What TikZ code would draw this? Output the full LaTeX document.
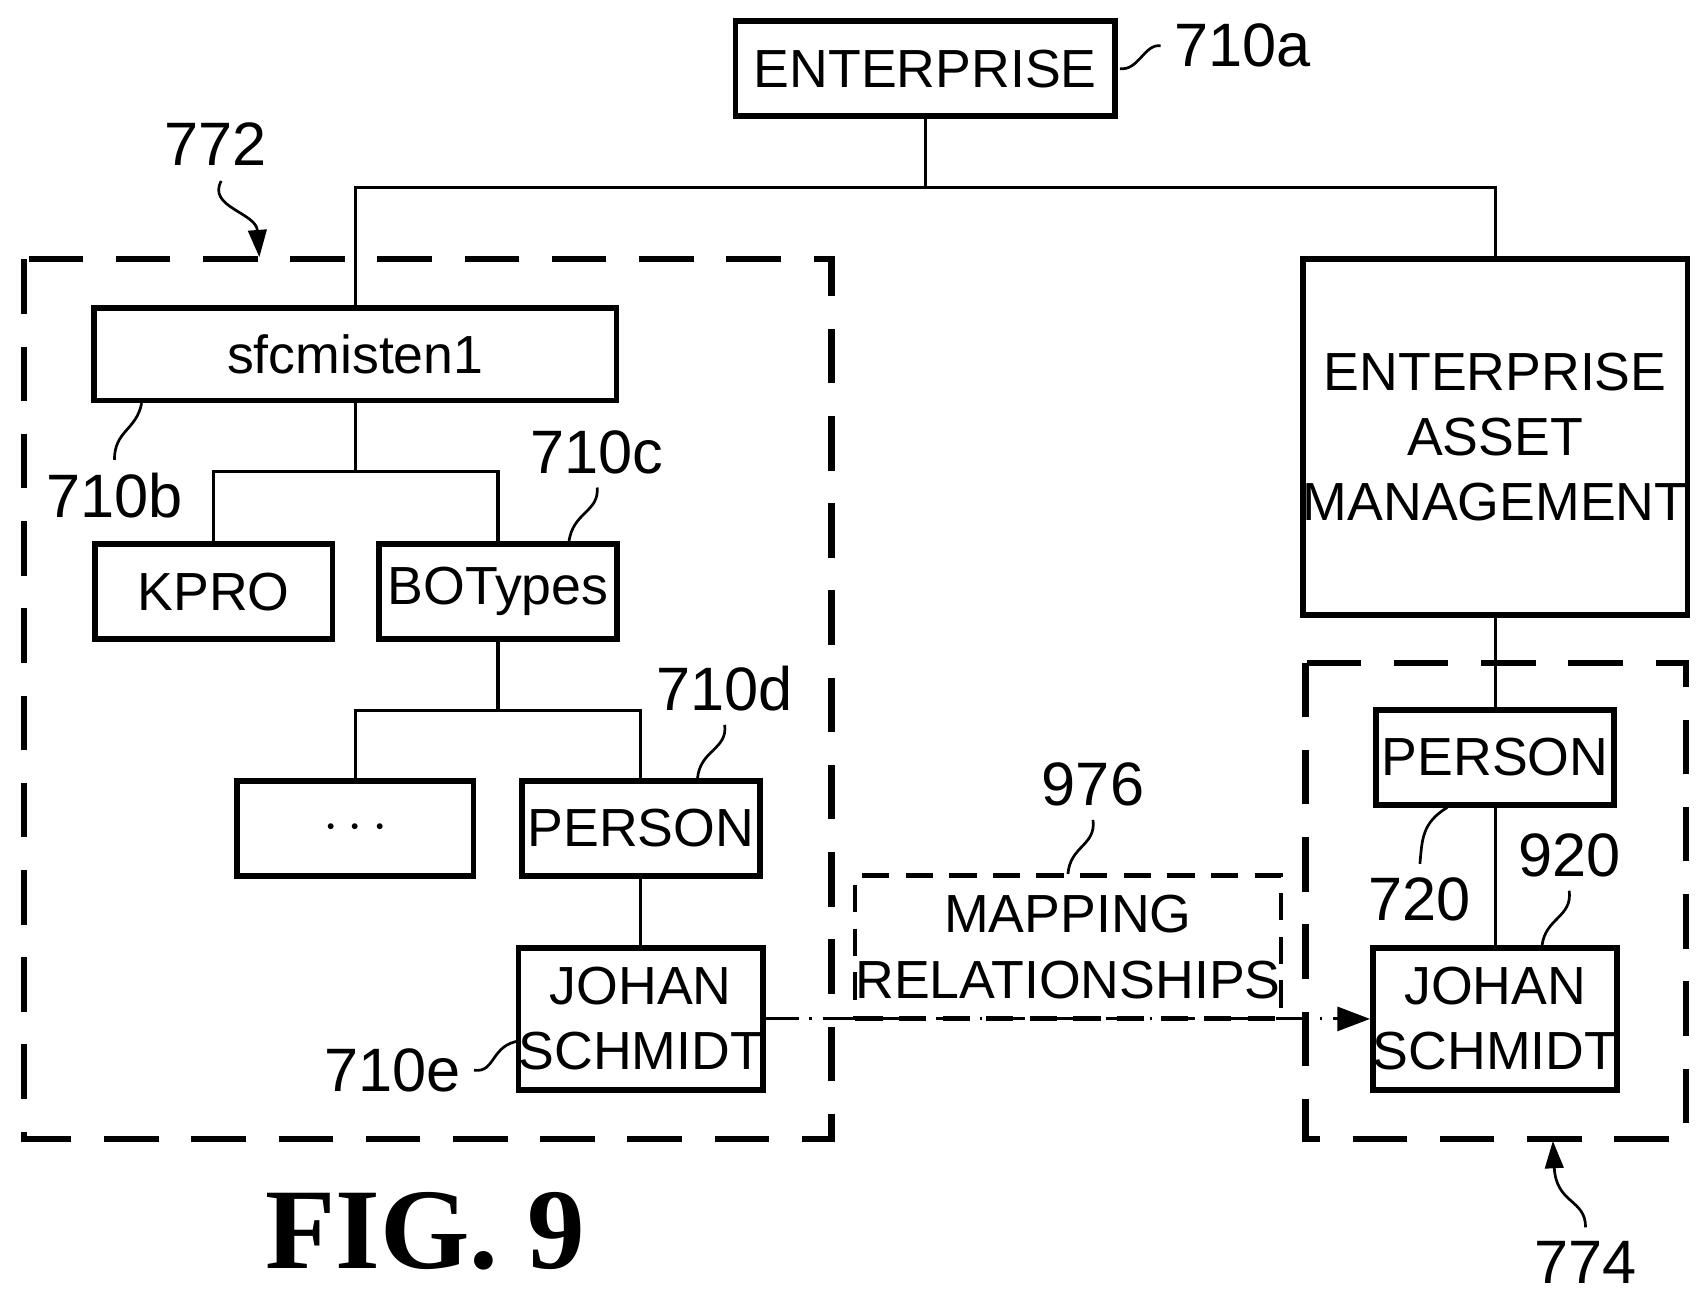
\documentclass[tikz,border=0pt]{standalone}
\usepackage{fontspec}
\setmainfont{Liberation Sans}
\newfontfamily\figfont{Liberation Serif}
\usetikzlibrary{positioning}
\usetikzlibrary{arrows.meta}

\tikzset{
    box/.style={draw, line width=1.5pt, inner sep=0pt, font=\fontsize{14}{17}\selectfont, align=center},
    wire/.style={line width=0.8pt},
    region/.style={line width=1.6pt, dash pattern=on 0.5cm off 0.3cm},
    refnum/.style={font=\fontsize{16}{18}\selectfont},
    leader/.style={line width=0.7pt}
}

\begin{document}
\begin{tikzpicture}[x=0.01cm, y=-0.01cm]
    \useasboundingbox (0,0) rectangle (1560,1190);

    % dashed regions
    \draw[region] (22,238) rectangle (763,1045);
    \draw[region] (1198,608) rectangle (1547,1045);

    % boxes
    \node[box, minimum width=3.48cm, minimum height=0.87cm] (ent) at (849,63) {ENTERPRISE};
    \node[box, minimum width=4.79cm, minimum height=0.85cm] (sfc) at (326,325) {sfcmisten1};
    \node[box, minimum width=2.18cm, minimum height=0.87cm] (kpro) at (196,543) {KPRO};
    \node[box, minimum width=2.18cm, minimum height=0.87cm] (bot) at (457,543) {BOTypes};
    \node[box, minimum width=2.17cm, minimum height=0.87cm] (dots) at (326,760) {\textbf{$\cdots$}};
    \node[box, minimum width=2.18cm, minimum height=0.87cm] (per) at (588,760) {PERSON};
    \node[box, minimum width=2.18cm, minimum height=1.30cm] (js) at (588,935) {JOHAN\\SCHMIDT};
    \node[box, minimum width=3.49cm, minimum height=3.27cm] (eam) at (1372,401) {ENTERPRISE\\ASSET\\MANAGEMENT};
    \node[box, minimum width=2.18cm, minimum height=0.87cm] (rper) at (1372,695) {PERSON};
    \node[box, minimum width=2.18cm, minimum height=1.30cm] (rjs) at (1372,935) {JOHAN\\SCHMIDT};
    \node[draw, line width=1.1pt, dash pattern=on 0.25cm off 0.15cm, inner sep=0pt, minimum width=3.49cm, minimum height=1.31cm,
          font=\fontsize{14}{17}\selectfont, align=center] (map) at (980,869) {MAPPING\\RELATIONSHIPS};

    % tree connectors
    \coordinate (top) at (849,172);
    \coordinate (mid1) at (326,433);
    \coordinate (mid2) at (457,652);
    \draw[wire] (ent) -- (top);
    \draw[wire] (sfc.north) |- (top) -| (eam.north);
    \draw[wire] (sfc) -- (mid1);
    \draw[wire] (kpro.north) |- (mid1) -| (bot.north);
    \draw[wire] (bot) -- (mid2);
    \draw[wire] (dots.north) |- (mid2) -| (per.north);
    \draw[wire] (per) -- (js);
    \draw[wire] (eam) -- (rper);
    \draw[wire] (rper) -- (rjs);

    % mapping arrow
    \draw[line width=0.8pt, dash pattern=on 0.3cm off 0.1cm on 0.02cm off 0.1cm, -{Triangle[length=0.3cm, width=0.22cm]}]
        (js.east) -- (rjs.west);

    % reference numerals
    \node[refnum] (n710a) at (1140,42) {710a};
    \draw[leader] (ent.east) ++(2,0) .. controls (1045,65) and (1050,40) .. (n710a.west);
    \node[refnum] (n772) at (198,132) {772};
    \draw[leader, -{Triangle[length=0.25cm, width=0.17cm]}] (n772.south) ++(5,2) .. controls (190,190) and (235,195) .. (238,236);
    \node[refnum] (n710b) at (105,455) {710b};
    \draw[leader] (130,370) .. controls (125,395) and (105,395) .. (n710b.north);
    \node[refnum] (n710c) at (548,415) {710c};
    \draw[leader] (n710c.south) .. controls (550,470) and (525,470) .. (522,498);
    \node[refnum] (n710d) at (665,632) {710d};
    \draw[leader] (n710d.south) .. controls (668,688) and (642,688) .. (640,715);
    \node[refnum] (n976) at (1003,720) {976};
    \draw[leader] (n976.south) .. controls (1006,776) and (982,776) .. (980,802);
    \node[refnum] (n720) at (1303,825) {720};
    \draw[leader] (1328,741) .. controls (1305,755) and (1305,770) .. (n720.north);
    \node[refnum] (n920) at (1440,785) {920};
    \draw[leader] (n920.south) .. controls (1443,842) and (1418,842) .. (1415,868);
    \node[refnum] (n710e) at (360,982) {710e};
    \draw[leader] (n710e.east) .. controls (455,985) and (450,958) .. (478,955);
    \node[refnum] (n774) at (1455,1158) {774};
    \draw[leader, -{Triangle[length=0.25cm, width=0.17cm]}] (n774.north) .. controls (1455,1100) and (1428,1105) .. (1425,1047);

    % figure caption
    \node[font=\figfont\bfseries\fontsize{30}{32}\selectfont] (fig) at (390,1130) {FIG. 9};
\end{tikzpicture}
\end{document}
